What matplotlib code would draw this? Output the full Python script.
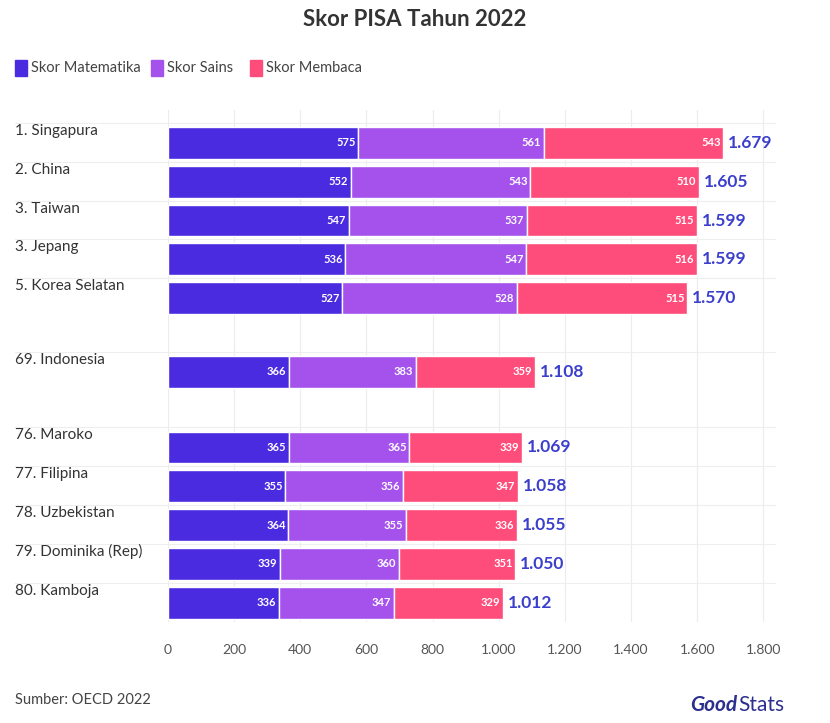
import matplotlib.pyplot as plt

COUNTRIES = ["1. Singapura", "2. China", "3. Taiwan", "3. Jepang", "5. Korea Selatan",
             "69. Indonesia", "76. Maroko", "77. Filipina", "78. Uzbekistan",
             "79. Dominika (Rep)", "80. Kamboja"]
MATH = [575, 552, 547, 536, 527, 366, 365, 355, 364, 339, 336]
SAINS = [561, 543, 537, 547, 528, 383, 365, 356, 355, 360, 347]
BACA = [543, 510, 515, 516, 515, 359, 339, 347, 336, 351, 329]
TOTAL = ["1.679", "1.605", "1.599", "1.599", "1.570", "1.108",
         "1.069", "1.058", "1.055", "1.050", "1.012"]
XTICKS = [0, 200, 400, 600, 800, 1000, 1200, 1400, 1600, 1800]
XTICKLABELS = ["0", "200", "400", "600", "800", "1.000", "1.200", "1.400", "1.600", "1.800"]
POS = [0, 1, 2, 3, 4, 5.9, 7.85, 8.85, 9.85, 10.85, 11.85]

C_MATH, C_SAINS, C_BACA, C_TOT = "#4a2be0", "#a552ec", "#ff4d7b", "#3b3fcc"

plt.rcParams["font.family"] = "Lato"
fig = plt.figure(figsize=(8.30, 7.23), dpi=100)
TOP, BOT = 110, 622
ax = fig.add_axes([168 / 830, 1 - BOT / 723, 607 / 830, (BOT - TOP) / 723])

left = [0] * len(MATH)
for vals, col in [(MATH, C_MATH), (SAINS, C_SAINS), (BACA, C_BACA)]:
    ax.barh(POS, vals, left=left, height=0.82, color=col, edgecolor="white", linewidth=1)
    for y, l, v in zip(POS, left, vals):
        ax.text(l + v - 8, y, str(v), ha="right", va="center", color="white",
                fontsize=8, fontweight="bold")
    left = [a + b for a, b in zip(left, vals)]
for y, l, t in zip(POS, left, TOTAL):
    ax.text(l + 15, y, t, ha="left", va="center", color=C_TOT, fontsize=12.5, fontweight="bold")

ax.set_xlim(0, 1835)
ax.set_ylim(12.35, -0.85)
ax.set_yticks([])
ax.set_xticks(XTICKS)
ax.set_xticklabels(XTICKLABELS, color="#555555", fontsize=10)
ax.tick_params(axis="x", length=0, pad=16)
for s in ax.spines.values():
    s.set_visible(False)
ax.grid(axis="x", color="#ececec", linewidth=0.8)
ax.set_axisbelow(True)

# country labels and separators in figure coords
for name, y in zip(COUNTRIES, POS):
    ypx = TOP + (y + 0.85) / 13.2 * (BOT - TOP)
    fig.text(15 / 830, 1 - (ypx - 12) / 723, name, fontsize=11, color="#333333", va="center")
    fig.add_artist(plt.Line2D([15 / 830, 775 / 830], [1 - (ypx - 20) / 723] * 2,
                              color="#eeeeee", linewidth=0.8))

fig.text(0.5, 1 - 20 / 723, "Skor PISA Tahun 2022", ha="center", va="center",
         fontsize=16, fontweight="bold", color="#333333")
x = 15
for lab, col in [("Skor Matematika", C_MATH), ("Skor Sains", C_SAINS), ("Skor Membaca", C_BACA)]:
    fig.patches.append(plt.Rectangle((x / 830, 1 - 76 / 723), 12 / 830, 16 / 723,
                                     color=col, transform=fig.transFigure))
    fig.text((x + 16) / 830, 1 - 68 / 723, lab, fontsize=10.5, color="#444444", va="center")
    x += 16 + len(lab) * 7.3 + 10

fig.text(15 / 830, 1 - 700 / 723, "Sumber: OECD 2022", fontsize=10.5, color="#444444", va="center")
fig.text(690 / 830, 1 - 705 / 723, "Good", fontsize=15, fontweight="bold", color="#2d2f8f",
         va="center", style="italic")
fig.text(738 / 830, 1 - 705 / 723, "Stats", fontsize=15, color="#2d2f8f", va="center")

fig.savefig("out.png", dpi=100, facecolor="white")
